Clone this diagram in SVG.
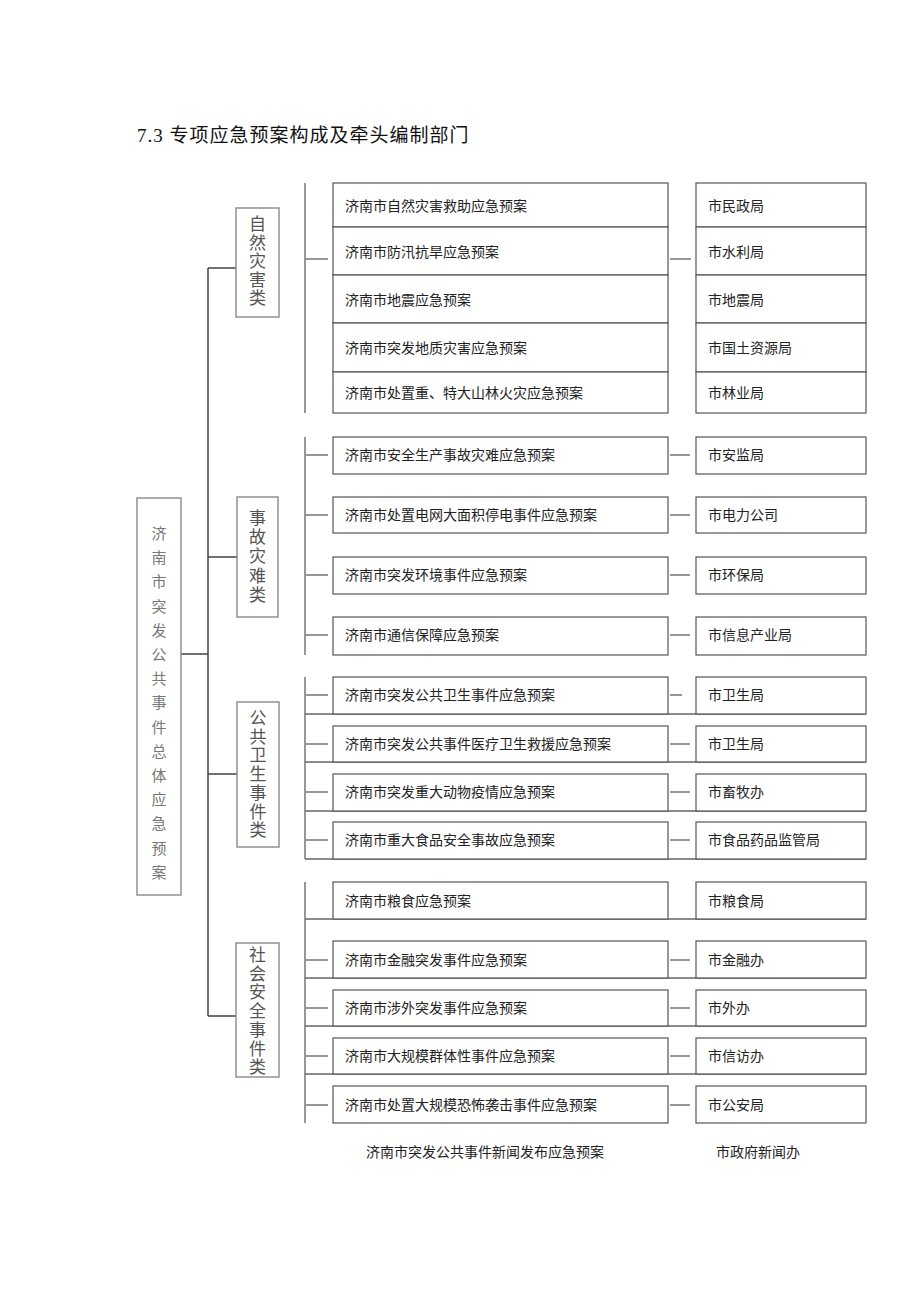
<svg xmlns="http://www.w3.org/2000/svg" width="920" height="1301" viewBox="0 0 920 1301">
<style>
text{font-family:"Liberation Serif","Noto Sans CJK SC",serif;}
.title{font-size:19px;fill:#111;letter-spacing:1px;}
.root{font-size:15px;fill:#777;text-anchor:middle;}
.cat{font-size:17px;fill:#555;text-anchor:middle;}
.t{font-size:14px;fill:#222;}
.gbox{fill:#fff;stroke:#8a8a8a;stroke-width:1.4;}
.box{fill:#fff;stroke:#555;stroke-width:1.2;}
.ln{stroke:#444;stroke-width:1.5;fill:none;}
.br{stroke:#777;stroke-width:1.5;fill:none;}
.sl{stroke:#333;stroke-width:1.2;fill:none;}
.fl{stroke:#666;stroke-width:1.3;fill:none;}
</style>
<rect width="920" height="1301" fill="#fff"/>
<text class="title" x="137" y="142">7.3 专项应急预案构成及牵头编制部门</text>

<g id="connectors">
  <path class="ln" d="M181 654H208M208 268V1016M208 268H236M208 557H237M208 774H237M208 1016H236"/>
  <path class="br" d="M305 183V413M305 437V655M305 677V859M305 882V1123"/>
  <path class="sl" d="M306 259H328M670 259H691"/>
  <path class="sl" d="M306 455H328M306 515H328M306 575H328M306 635H328M670 455H690M670 515H690M670 575H690M670 635H690"/>
  <path class="sl" d="M306 695H328M306 744H328M306 792H328M306 840H328M670 695H682M670 744H690M670 792H690M670 840H690"/>
  <path class="sl" d="M306 960H328M306 1008H328M306 1056H328M306 1105H328M670 960H690M670 1008H690M670 1056H690M670 1105H690"/>
  <path class="fl" d="M305 714H866M305 762H866M305 811H866M305 859H866M305 919H866M305 978H866M305 1026H866M305 1074H866"/>
</g>

<g id="root">
  <rect class="gbox" x="137" y="498" width="44" height="397"/>
  <text class="root"><tspan x="159" y="539">济</tspan><tspan x="159" dy="24.2">南</tspan><tspan x="159" dy="24.2">市</tspan><tspan x="159" dy="24.2">突</tspan><tspan x="159" dy="24.2">发</tspan><tspan x="159" dy="24.2">公</tspan><tspan x="159" dy="24.2">共</tspan><tspan x="159" dy="24.2">事</tspan><tspan x="159" dy="24.2">件</tspan><tspan x="159" dy="24.2">总</tspan><tspan x="159" dy="24.2">体</tspan><tspan x="159" dy="24.2">应</tspan><tspan x="159" dy="24.2">急</tspan><tspan x="159" dy="24.2">预</tspan><tspan x="159" dy="24.2">案</tspan></text>
</g>

<g id="cat-natural">
  <rect class="gbox" x="236" y="208" width="43" height="109"/>
  <text class="cat"><tspan x="257.5" y="230">自</tspan><tspan x="257.5" dy="18.6">然</tspan><tspan x="257.5" dy="18.6">灾</tspan><tspan x="257.5" dy="18.6">害</tspan><tspan x="257.5" dy="18.6">类</tspan></text>
</g>
<g id="cat-accident">
  <rect class="gbox" x="237" y="497" width="41" height="120"/>
  <text class="cat"><tspan x="257.5" y="524">事</tspan><tspan x="257.5" dy="19.2">故</tspan><tspan x="257.5" dy="19.2">灾</tspan><tspan x="257.5" dy="19.2">难</tspan><tspan x="257.5" dy="19.2">类</tspan></text>
</g>
<g id="cat-health">
  <rect class="gbox" x="237" y="702" width="42" height="145"/>
  <text class="cat"><tspan x="258" y="724">公</tspan><tspan x="258" dy="18.7">共</tspan><tspan x="258" dy="18.7">卫</tspan><tspan x="258" dy="18.7">生</tspan><tspan x="258" dy="18.7">事</tspan><tspan x="258" dy="18.7">件</tspan><tspan x="258" dy="18.7">类</tspan></text>
</g>
<g id="cat-social">
  <rect class="gbox" x="236" y="943" width="43" height="134"/>
  <text class="cat"><tspan x="257.5" y="961">社</tspan><tspan x="257.5" dy="18.7">会</tspan><tspan x="257.5" dy="18.7">安</tspan><tspan x="257.5" dy="18.7">全</tspan><tspan x="257.5" dy="18.7">事</tspan><tspan x="257.5" dy="18.7">件</tspan><tspan x="257.5" dy="18.7">类</tspan></text>
</g>

<g id="plans-natural">
  <rect class="box" x="333" y="183" width="335" height="44"/>
  <rect class="box" x="333" y="227" width="335" height="48"/>
  <rect class="box" x="333" y="275" width="335" height="48"/>
  <rect class="box" x="333" y="323" width="335" height="49"/>
  <rect class="box" x="333" y="372" width="335" height="41"/>
  <text class="t" x="345" y="211">济南市自然灾害救助应急预案</text>
  <text class="t" x="345" y="257">济南市防汛抗旱应急预案</text>
  <text class="t" x="345" y="305">济南市地震应急预案</text>
  <text class="t" x="345" y="353">济南市突发地质灾害应急预案</text>
  <text class="t" x="345" y="398">济南市处置重、特大山林火灾应急预案</text>
</g>
<g id="depts-natural">
  <rect class="box" x="696" y="183" width="170" height="44"/>
  <rect class="box" x="696" y="227" width="170" height="48"/>
  <rect class="box" x="696" y="275" width="170" height="48"/>
  <rect class="box" x="696" y="323" width="170" height="49"/>
  <rect class="box" x="696" y="372" width="170" height="41"/>
  <text class="t" x="708" y="211">市民政局</text>
  <text class="t" x="708" y="257">市水利局</text>
  <text class="t" x="708" y="305">市地震局</text>
  <text class="t" x="708" y="353">市国土资源局</text>
  <text class="t" x="708" y="398">市林业局</text>
</g>

<g id="plans-accident">
  <rect class="box" x="333" y="437" width="335" height="37"/>
  <rect class="box" x="333" y="497" width="335" height="36"/>
  <rect class="box" x="333" y="557" width="335" height="37"/>
  <rect class="box" x="333" y="617" width="335" height="38"/>
  <text class="t" x="345" y="460">济南市安全生产事故灾难应急预案</text>
  <text class="t" x="345" y="520">济南市处置电网大面积停电事件应急预案</text>
  <text class="t" x="345" y="580">济南市突发环境事件应急预案</text>
  <text class="t" x="345" y="640">济南市通信保障应急预案</text>
</g>
<g id="depts-accident">
  <rect class="box" x="696" y="437" width="170" height="37"/>
  <rect class="box" x="696" y="497" width="170" height="36"/>
  <rect class="box" x="696" y="557" width="170" height="37"/>
  <rect class="box" x="696" y="617" width="170" height="38"/>
  <text class="t" x="708" y="460">市安监局</text>
  <text class="t" x="708" y="520">市电力公司</text>
  <text class="t" x="708" y="580">市环保局</text>
  <text class="t" x="708" y="640">市信息产业局</text>
</g>

<g id="plans-health">
  <rect class="box" x="333" y="677" width="335" height="37"/>
  <rect class="box" x="333" y="726" width="335" height="36"/>
  <rect class="box" x="333" y="774" width="335" height="37"/>
  <rect class="box" x="333" y="822" width="335" height="37"/>
  <text class="t" x="345" y="700">济南市突发公共卫生事件应急预案</text>
  <text class="t" x="345" y="749">济南市突发公共事件医疗卫生救援应急预案</text>
  <text class="t" x="345" y="797">济南市突发重大动物疫情应急预案</text>
  <text class="t" x="345" y="845">济南市重大食品安全事故应急预案</text>
</g>
<g id="depts-health">
  <rect class="box" x="696" y="677" width="170" height="37"/>
  <rect class="box" x="696" y="726" width="170" height="36"/>
  <rect class="box" x="696" y="774" width="170" height="37"/>
  <rect class="box" x="696" y="822" width="170" height="37"/>
  <text class="t" x="708" y="700">市卫生局</text>
  <text class="t" x="708" y="749">市卫生局</text>
  <text class="t" x="708" y="797">市畜牧办</text>
  <text class="t" x="708" y="845">市食品药品监管局</text>
</g>

<g id="plans-social">
  <rect class="box" x="333" y="882" width="335" height="37"/>
  <rect class="box" x="333" y="941" width="335" height="37"/>
  <rect class="box" x="333" y="990" width="335" height="36"/>
  <rect class="box" x="333" y="1038" width="335" height="36"/>
  <rect class="box" x="333" y="1086" width="335" height="37"/>
  <text class="t" x="345" y="906">济南市粮食应急预案</text>
  <text class="t" x="345" y="965">济南市金融突发事件应急预案</text>
  <text class="t" x="345" y="1013">济南市涉外突发事件应急预案</text>
  <text class="t" x="345" y="1061">济南市大规模群体性事件应急预案</text>
  <text class="t" x="345" y="1110">济南市处置大规模恐怖袭击事件应急预案</text>
</g>
<g id="depts-social">
  <rect class="box" x="696" y="882" width="170" height="37"/>
  <rect class="box" x="696" y="941" width="170" height="37"/>
  <rect class="box" x="696" y="990" width="170" height="36"/>
  <rect class="box" x="696" y="1038" width="170" height="36"/>
  <rect class="box" x="696" y="1086" width="170" height="37"/>
  <text class="t" x="708" y="906">市粮食局</text>
  <text class="t" x="708" y="965">市金融办</text>
  <text class="t" x="708" y="1013">市外办</text>
  <text class="t" x="708" y="1061">市信访办</text>
  <text class="t" x="708" y="1110">市公安局</text>
</g>

<g id="news">
  <text class="t" x="366" y="1157">济南市突发公共事件新闻发布应急预案</text>
  <text class="t" x="716" y="1157">市政府新闻办</text>
</g>
</svg>
